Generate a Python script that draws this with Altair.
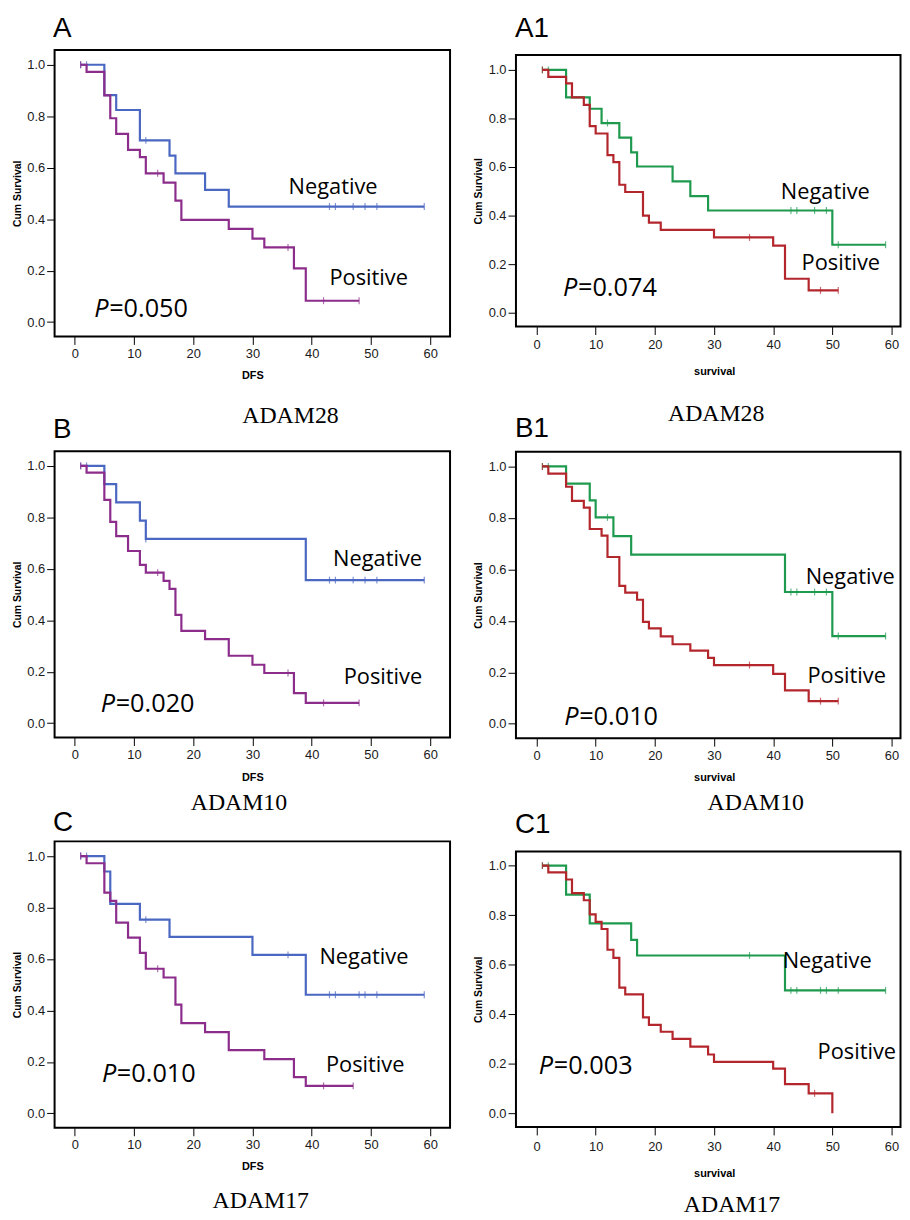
import altair as alt
import pandas as pd

# ---------------- data ----------------
X_TICKS = [0, 10, 20, 30, 40, 50, 60]
Y_TICKS = [0.0, 0.2, 0.4, 0.6, 0.8, 1.0]
GROUPS = ["Negative", "Positive"]

GENES = {"A": "ADAM28", "A1": "ADAM28", "B": "ADAM10", "B1": "ADAM10", "C": "ADAM17", "C1": "ADAM17"}
X_TITLES = {"A": "DFS", "A1": "survival", "B": "DFS", "B1": "survival", "C": "DFS", "C1": "survival"}
P_VALUES = {"A": "=0.050", "A1": "=0.074", "B": "=0.020", "B1": "=0.010", "C": "=0.010", "C1": "=0.003"}

# Panel A (DFS, ADAM28)
A_neg_t = [1, 5, 7, 11, 16, 17, 22, 26]
A_neg_s = [1.0, 0.882, 0.824, 0.706, 0.647, 0.578, 0.514, 0.449]
A_neg_c = [1, 2, 12, 43, 44, 47, 49, 51, 59]
A_pos_t = [1, 2, 5, 6, 7, 9, 11, 12, 15, 17, 18, 26, 30, 32, 37, 39]
A_pos_s = [1.0, 0.972, 0.881, 0.792, 0.731, 0.669, 0.641, 0.578, 0.542, 0.472, 0.397, 0.362, 0.324, 0.290, 0.209, 0.083]
A_pos_c = [1, 14, 36, 42, 48]

# Panel A1 (survival, ADAM28)
A1_neg_t = [1, 5, 9, 11, 14, 16, 17, 23, 26, 29, 50]
A1_neg_s = [1.0, 0.887, 0.84, 0.781, 0.721, 0.66, 0.602, 0.541, 0.48, 0.421, 0.28]
A1_neg_c = [1, 2, 12, 43, 44, 47, 49, 51, 59]
A1_pos_t = [1, 2, 5, 6, 8, 9, 10, 12, 13, 14, 15, 18, 19, 21, 30, 40, 42, 46]
A1_pos_s = [1.0, 0.971, 0.944, 0.887, 0.856, 0.768, 0.738, 0.649, 0.62, 0.527, 0.497, 0.40, 0.371, 0.341, 0.31, 0.276, 0.14, 0.092]
A1_pos_c = [1, 36, 48, 51]

# Panel B (DFS, ADAM10)
B_neg_t = [1, 5, 7, 11, 12, 39]
B_neg_s = [1.0, 0.929, 0.858, 0.787, 0.716, 0.556]
B_neg_c = [1, 2, 12, 43, 44, 47, 49, 51, 59]
B_pos_t = [1, 2, 5, 6, 7, 9, 11, 12, 15, 16, 17, 18, 22, 26, 30, 32, 37, 39]
B_pos_s = [1.0, 0.974, 0.868, 0.782, 0.727, 0.669, 0.615, 0.585, 0.553, 0.522, 0.421, 0.359, 0.327, 0.262, 0.227, 0.195, 0.117, 0.079]
B_pos_c = [1, 14, 36, 42, 48]

# Panel B1 (survival, ADAM10)
B1_neg_t = [1, 5, 9, 10, 13, 16, 42, 50]
B1_neg_s = [1.0, 0.933, 0.868, 0.802, 0.729, 0.657, 0.512, 0.341]
B1_neg_c = [1, 2, 12, 43, 44, 47, 49, 51, 59]
B1_pos_t = [1, 2, 5, 6, 8, 9, 11, 12, 14, 15, 17, 18, 19, 21, 23, 26, 29, 30, 40, 42, 46]
B1_pos_s = [1.0, 0.972, 0.921, 0.866, 0.84, 0.757, 0.731, 0.648, 0.536, 0.51, 0.482, 0.396, 0.371, 0.34, 0.309, 0.284, 0.256, 0.228, 0.194, 0.13, 0.088]
B1_pos_c = [1, 36, 48, 51]

# Panel C (DFS, ADAM17)
C_neg_t = [1, 5, 6, 11, 16, 30, 39]
C_neg_s = [1.0, 0.94, 0.814, 0.753, 0.686, 0.616, 0.461]
C_neg_c = [1, 2, 12, 36, 43, 44, 48, 49, 51, 59]
C_pos_t = [1, 2, 5, 6, 7, 9, 11, 12, 15, 17, 18, 22, 26, 32, 37, 39]
C_pos_s = [1.0, 0.972, 0.858, 0.826, 0.741, 0.683, 0.624, 0.562, 0.528, 0.423, 0.351, 0.316, 0.246, 0.211, 0.141, 0.107]
C_pos_c = [1, 14, 42, 47]

# Panel C1 (survival, ADAM17)
C1_neg_t = [1, 5, 9, 16, 17, 42]
C1_neg_s = [1.0, 0.883, 0.767, 0.70, 0.637, 0.496]
C1_neg_c = [1, 2, 36, 43, 44, 48, 49, 51, 59]
C1_pos_t = [1, 2, 5, 6, 8, 9, 10, 11, 12, 13, 14, 15, 18, 19, 21, 23, 26, 29, 30, 40, 42, 46, 50]
C1_pos_s = [1.0, 0.973, 0.944, 0.889, 0.86, 0.803, 0.773, 0.744, 0.66, 0.627, 0.507, 0.48, 0.387, 0.357, 0.329, 0.30, 0.269, 0.237, 0.207, 0.18, 0.117, 0.08, 0.0]
C1_pos_c = [1, 47]

# annotation anchors in data units: (x, y) for "Negative", "Positive", "P=..."
ANN_NEG = {"A": (36.1, 0.498), "A1": (41.3, 0.47), "B": (43.6, 0.612), "B1": (45.5, 0.543), "C": (41.3, 0.582), "C1": (41.6, 0.587)}
ANN_POS = {"A": (43.0, 0.145), "A1": (44.8, 0.174), "B": (45.4, 0.154), "B1": (45.8, 0.16), "C": (42.4, 0.159), "C1": (47.5, 0.22)}
ANN_P = {"A": (3.3, 0.021), "A1": (4.5, 0.068), "B": (4.4, 0.044), "B1": (4.7, -0.004), "C": (4.6, 0.121), "C1": (0.4, 0.16)}

DATA = {
    "A": ((A_neg_t, A_neg_s, A_neg_c), (A_pos_t, A_pos_s, A_pos_c)),
    "A1": ((A1_neg_t, A1_neg_s, A1_neg_c), (A1_pos_t, A1_pos_s, A1_pos_c)),
    "B": ((B_neg_t, B_neg_s, B_neg_c), (B_pos_t, B_pos_s, B_pos_c)),
    "B1": ((B1_neg_t, B1_neg_s, B1_neg_c), (B1_pos_t, B1_pos_s, B1_pos_c)),
    "C": ((C_neg_t, C_neg_s, C_neg_c), (C_pos_t, C_pos_s, C_pos_c)),
    "C1": ((C1_neg_t, C1_neg_s, C1_neg_c), (C1_pos_t, C1_pos_s, C1_pos_c)),
}

# ---------------- layout / style ----------------
LEFT_COLORS = ["#4a67c2", "#8c2d8c"]
RIGHT_COLORS = ["#1e9a4f", "#b3262c"]
LW, RW = 399, 388
LXDOM = [-3.4, 63.35]
RXDOM = [-3.47, -3.47 + RW / 5.97]
YDOM = [-0.056, 1.057]

# ly = letter baseline (relative to plot top; None = letter drawn by a header strip),
# gy = gene-name baseline, spacer = invisible bound filler
STYLE = {
    "A":  dict(w=LW, h=289, xdom=LXDOM, ydom=YDOM, colors=LEFT_COLORS, lx=-1.7, ly=-13.3, xlp=2.7, xtp=9.9, gx=238, gy=376, spacer=None, titlex=None),
    "B":  dict(w=LW, h=289, xdom=LXDOM, ydom=YDOM, colors=LEFT_COLORS, lx=-1.7, ly=-13.7, xlp=2.7, xtp=10.5, gx=186, gy=362, spacer=367.8, titlex=None),
    "C":  dict(w=LW, h=289, xdom=LXDOM, ydom=YDOM, colors=LEFT_COLORS, lx=-1.7, ly=-10.8, xlp=2.6, xtp=9.9, gx=208, gy=370.3, spacer=None, titlex=None),
    "A1": dict(w=RW, h=274, xdom=RXDOM, ydom=[-0.0571, 1.0611], colors=RIGHT_COLORS, lx=-1.0, ly=None, xlp=4.4, xtp=13.8, gx=202, gy=369.7, spacer=None, titlex=200),
    "B1": dict(w=RW, h=289, xdom=RXDOM, ydom=YDOM, colors=RIGHT_COLORS, lx=-1.0, ly=-14.4, xlp=3.3, xtp=8.9, gx=242, gy=361, spacer=368.7, titlex=200),
    "C1": dict(w=RW, h=278, xdom=RXDOM, ydom=YDOM, colors=RIGHT_COLORS, lx=-1.0, ly=-19.0, xlp=5.7, xtp=14.2, gx=218, gy=363.7, spacer=None, titlex=200),
}
HEAD_H = 3.5
SANS = "Liberation Sans"
ANN_FONT = "Open Sans"


def letter_layer(text, lx, ly):
    return alt.Chart(pd.DataFrame([{"letter": text}])).mark_text(
        align="left", baseline="alphabetic", font=SANS, fontSize=28, color="black").encode(
        x=alt.value(lx), y=alt.value(ly), text="letter:N")


def make_panel(key):
    st = STYLE[key]

    xaxis_kw = dict(values=X_TICKS, format="d", grid=False, domain=False, tickSize=8,
                    tickColor="black", tickWidth=1, labelFont=SANS, labelFontSize=13,
                    labelColor="#1a1a1a", labelPadding=st["xlp"], labelFlush=False,
                    title=X_TITLES[key], titleFont=SANS, titleFontSize=11, titleFontWeight="bold",
                    titleColor="black", titlePadding=st["xtp"])
    if st["titlex"] is not None:
        xaxis_kw["titleX"] = st["titlex"]
    xaxis = alt.Axis(**xaxis_kw)
    yaxis = alt.Axis(values=Y_TICKS, format=".1f", grid=False, domain=False, tickSize=8,
                     tickColor="black", tickWidth=1, labelFont=SANS, labelFontSize=13,
                     labelColor="#1a1a1a", labelPadding=2, labelFlush=False,
                     title="Cum Survival", titleFont=SANS, titleFontSize=10.5,
                     titleFontWeight="bold", titleColor="black", titlePadding=4.7)
    X = alt.X("t:Q", scale=alt.Scale(domain=st["xdom"], nice=False, zero=False), axis=xaxis)
    Y = alt.Y("s:Q", scale=alt.Scale(domain=st["ydom"], nice=False, zero=False), axis=yaxis)

    layers = []
    for g, (ts, ss, cs), colr in zip(GROUPS, DATA[key], st["colors"]):
        end = max(ts[-1], max(cs))
        rows = [{"t": t, "s": s, "o": i} for i, (t, s) in enumerate(zip(ts, ss))]
        if end > ts[-1]:
            rows.append({"t": end, "s": ss[-1], "o": len(ts)})
        cens = [{"t": c, "s": [s for t, s in zip(ts, ss) if t <= c][-1]} for c in cs]
        layers.append(alt.Chart(pd.DataFrame(rows)).mark_line(
            interpolate="step-after", strokeWidth=2.2, color=colr).encode(x=X, y=Y, order="o:Q"))
        layers.append(alt.Chart(pd.DataFrame(cens)).mark_tick(
            orient="vertical", size=7, thickness=1.2, color=colr).encode(x=X, y=Y))

    ann = pd.DataFrame([
        {"t": ANN_NEG[key][0], "s": ANN_NEG[key][1], "label": "Negative"},
        {"t": ANN_POS[key][0], "s": ANN_POS[key][1], "label": "Positive"},
    ])
    layers.append(alt.Chart(ann).mark_text(align="left", baseline="alphabetic", font=ANN_FONT,
                                           fontSize=22, color="black").encode(x=X, y=Y, text="label:N"))
    pdf = pd.DataFrame([{"t": ANN_P[key][0], "s": ANN_P[key][1], "p": "P", "v": P_VALUES[key]}])
    layers.append(alt.Chart(pdf).mark_text(align="left", baseline="alphabetic", font=ANN_FONT, fontSize=25.5,
                                           fontStyle="italic", color="black").encode(x=X, y=Y, text="p:N"))
    layers.append(alt.Chart(pdf).mark_text(align="left", baseline="alphabetic", font=ANN_FONT, fontSize=25.5,
                                           dx=15, color="black").encode(x=X, y=Y, text="v:N"))

    # panel letter and gene caption
    if st["ly"] is not None:
        layers.append(letter_layer(key, st["lx"], st["ly"]))
    layers.append(alt.Chart(pd.DataFrame([{"gene": GENES[key]}])).mark_text(
        align="center", baseline="alphabetic", font="Liberation Serif", fontSize=24, color="black").encode(
        x=alt.value(st["gx"]), y=alt.value(st["gy"]), text="gene:N"))
    if st["spacer"] is not None:
        layers.append(alt.Chart(pd.DataFrame([{"sp": " "}])).mark_text(
            baseline="alphabetic", fontSize=24, opacity=0).encode(
            x=alt.value(st["gx"]), y=alt.value(st["spacer"]), text="sp:N"))

    return alt.layer(*layers).properties(width=st["w"], height=st["h"])


# thin invisible strip above A1 carrying its letter, so the A1 frame sits a little lower than A's
a1_head = letter_layer("A1", -1.0, -13.3).properties(
    width=RW, height=HEAD_H, view=alt.ViewBackground(stroke="transparent"))

left = alt.vconcat(make_panel("A"), make_panel("B"), make_panel("C"), spacing=-14.3)
right = alt.vconcat(a1_head, make_panel("A1"), make_panel("B1"), make_panel("C1"), spacing=-13.7)
chart = alt.hconcat(left, right, spacing=21.5).properties(
    padding={"left": 3, "top": 0, "right": 0, "bottom": 0}
).configure_view(stroke="black", strokeWidth=2)

chart.save("out.html", embed_options={"renderer": "svg", "actions": False})
